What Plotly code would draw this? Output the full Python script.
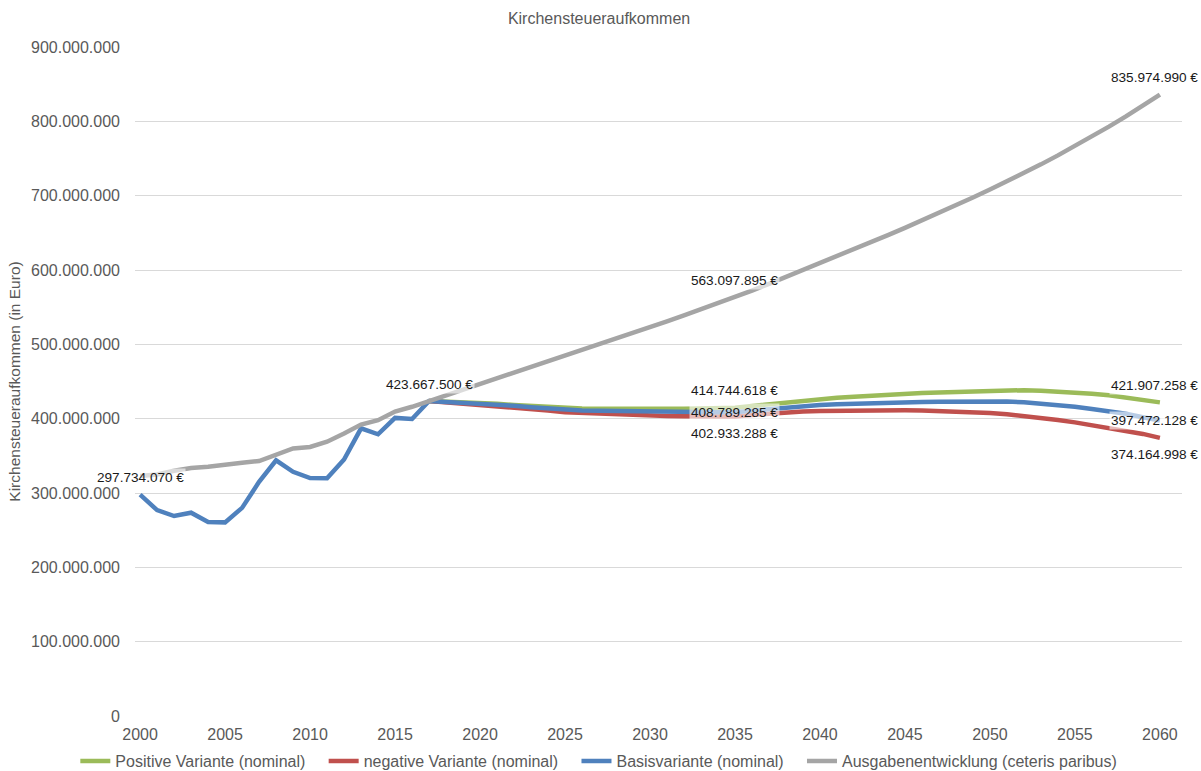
import plotly.graph_objects as go

# ---- data (values in million Euro) ----
years_all = list(range(2000, 2061))
years_proj = list(range(2017, 2061))

basis = [297.734070, 277.0, 269.0, 273.5, 261.0, 260.5, 280.0, 315.0, 344.0, 328.5,
         320.0, 319.7, 345.0, 387.0, 379.0, 401.0, 399.5, 423.6675,
         422.5, 421.5, 420.3, 419.0, 417.3, 415.5, 413.5, 411.5, 411.0, 410.5,
         410.0, 409.5, 409.0, 408.6, 408.3, 408.3, 408.5, 408.789285,
         411.0, 413.0, 415.0, 417.0, 418.5, 419.5, 420.3, 421.0, 421.5, 422.0,
         422.3, 422.6, 423.0, 423.2, 423.3, 423.0, 422.0, 420.5, 418.5, 416.0,
         413.0, 410.0, 406.5, 402.0, 397.472128]

ausgaben = [323.0, 325.0, 330.0, 333.6, 335.4, 338.6, 340.8, 343.0, 351.0, 360.0,
            362.0, 369.0, 380.0, 392.0, 398.0, 409.5, 416.0, 423.6675,
            431.0, 438.5, 446.0, 453.5, 461.0, 468.5, 476.0, 483.5, 491.2, 499.0,
            506.8, 514.8, 522.8, 530.8, 538.8, 546.8, 554.9, 563.097895,
            572.2, 581.4, 590.6, 599.9, 609.2, 618.5, 627.9, 637.4, 647.0, 656.7,
            666.6, 676.7, 687.0, 697.5, 708.2, 719.1, 730.4, 742.1, 754.2, 766.7,
            779.6, 792.9, 806.7, 821.0, 835.974990]

positiv = [423.6675, 423.0, 422.0, 421.0, 420.0, 418.5, 417.0, 415.5, 414.0, 413.8,
           413.5, 413.2, 413.0, 413.0, 413.0, 413.2, 413.6, 414.1, 414.744618,
           417.0, 419.5, 422.0, 424.5, 426.5, 428.0, 429.5, 431.0, 432.0, 433.5,
           434.5, 435.3, 436.0, 437.0, 438.0, 438.5, 438.3, 437.5, 436.5, 435.5,
           433.5, 431.5, 428.5, 425.0, 421.907258]

negativ = [423.6675, 422.0, 420.5, 419.0, 417.5, 415.5, 413.3, 411.0, 408.5, 407.5,
           406.6, 405.8, 405.0, 404.3, 403.7, 403.3, 403.0, 402.9, 402.933288,
           405.0, 407.0, 408.5, 409.5, 410.2, 410.6, 411.0, 411.2, 411.3, 411.2,
           411.0, 410.5, 409.8, 408.8, 407.5, 405.8, 403.5, 401.0, 398.3, 395.0,
           391.5, 388.0, 384.0, 379.5, 374.164998]

y_ticks = [0, 100, 200, 300, 400, 500, 600, 700, 800, 900]
x_ticks = list(range(2000, 2061, 5))

# labelled points: (series, year, position)
labels = [
    ("basis", 2000, "above"),
    ("ausgaben", 2017, "above"),
    ("positiv", 2035, "above"),
    ("basis", 2035, "center"),
    ("negativ", 2035, "below"),
    ("ausgaben", 2035, "above"),
    ("positiv", 2060, "above"),
    ("basis", 2060, "center"),
    ("negativ", 2060, "below"),
    ("ausgaben", 2060, "above"),
]

series = {
    "positiv": (years_proj, positiv),
    "negativ": (years_proj, negativ),
    "basis": (years_all, basis),
    "ausgaben": (years_all, ausgaben),
}

def eur(v):
    return [round(x * 1e6) for x in v]

PAD = "\u00a0\u00a0\u00a0"
fig = go.Figure()
styles = [
    ("positiv", "Positive Variante (nominal)", "#9BBB59"),
    ("negativ", "negative Variante (nominal)", "#C0504D"),
    ("basis", "Basisvariante (nominal)", "#4F81BD"),
    ("ausgaben", "Ausgabenentwicklung (ceteris paribus)", "#A5A5A5"),
]
for key, name, color in styles:
    xs, ys = series[key]
    fig.add_trace(go.Scatter(x=xs, y=eur(ys), mode="lines", name=name + PAD,
                             line=dict(color=color, width=4.5)))

def fmt(v):
    return f"{round(v * 1e6):,}".replace(",", ".") + " €"

shift = {"above": 17, "center": 0, "below": -17}
for key, yr, pos in labels:
    xs, ys = series[key]
    v = ys[xs.index(yr)]
    extra = {}
    if yr == 2060:
        extra = dict(xanchor="right", xshift=40)
    fig.add_annotation(x=yr, y=round(v * 1e6), text=fmt(v), showarrow=False,
                       yshift=shift[pos], bgcolor="rgba(255,255,255,0.6)",
                       borderpad=1,
                       font=dict(family="Liberation Sans, Arial", size=13.6, color="#1a1a1a"),
                       **extra)

fig.update_layout(
    width=1201, height=771,
    margin=dict(l=135, r=19, t=47, b=55, autoexpand=False),
    paper_bgcolor="white", plot_bgcolor="white",
    separators=",.",
    font=dict(family="Liberation Sans, Arial", size=16, color="#595959"),
    title=dict(text="Kirchensteueraufkommen", x=0.4988, xanchor="center",
               y=0.9767, yanchor="middle", font=dict(size=16, color="#595959")),
    showlegend=True,
    legend=dict(orientation="h", x=-0.057, xref="paper", xanchor="left",
                y=-0.042, yanchor="top", font=dict(size=16, color="#595959"),
                itemwidth=30, tracegroupgap=0),
    xaxis=dict(range=[1999.7, 2061.3], tickvals=x_ticks, showgrid=False,
               zeroline=False, showline=False, ticks="", tickangle=0,
               ticklabelstandoff=7,
               tickfont=dict(size=16, color="#595959")),
    yaxis=dict(range=[0, 900e6], tickvals=[t * 1e6 for t in y_ticks],
               tickformat=",.0f", showgrid=True, gridcolor="#D9D9D9", gridwidth=1,
               zeroline=False, showline=False, ticks="", ticklen=0,
               ticklabelstandoff=14,
               tickfont=dict(size=16, color="#595959")),
)
fig.update_yaxes(title=dict(text="Kirchensteueraufkommen (in Euro)", standoff=6,
                            font=dict(size=15.5, color="#595959")))

fig.write_html("out.html", config={"displayModeBar": False},
               post_script="document.body.style.margin='0';document.documentElement.style.overflow='hidden';")
